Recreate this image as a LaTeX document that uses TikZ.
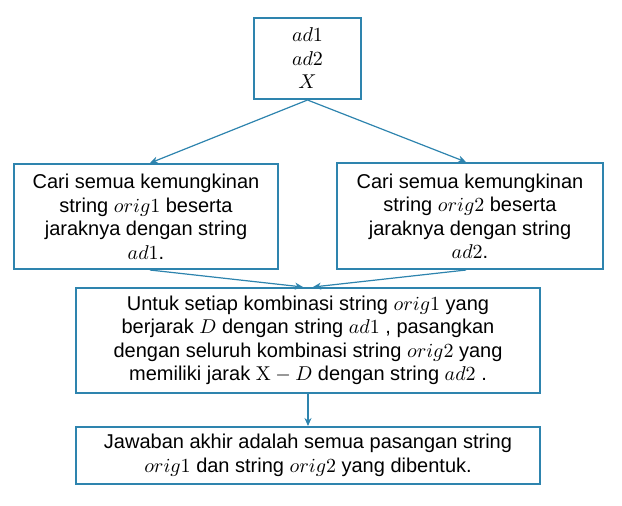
\documentclass[tikz,border=0pt]{standalone}
\usepackage[no-math]{fontspec}
\setmainfont{Liberation Sans}
\usetikzlibrary{arrows.meta}
\definecolor{boxblue}{RGB}{46,132,174}
\tikzset{
	stepbox/.style={draw=boxblue, line width=1pt, align=center, inner sep=0pt, font=\fontsize{10}{11.75}\selectfont},
	flow/.style={draw=boxblue, line width=0.6pt, -{Stealth[length=4pt,width=3.5pt]}}
}

\begin{document}
\begin{tikzpicture}[x=0.5pt, y=-0.5pt]
	\useasboundingbox (0,0) rectangle (622,505);

	\node [stepbox, minimum width=53.5pt, minimum height=40.5pt] (inp) at (307.5,58.5) {$ad1$\\$ad2$\\$X$};
	\node [stepbox, minimum width=132pt, minimum height=52.5pt] (lft) at (146,216.5) {Cari semua kemungkinan\\string $orig1$ beserta\\jaraknya dengan string\\$ad1$.};
	\node [stepbox, minimum width=133pt, minimum height=53pt] (rgt) at (470,216) {Cari semua kemungkinan\\string $orig2$ beserta\\jaraknya dengan string\\$ad2$.};
	\node [stepbox, minimum width=232pt, minimum height=52.5pt] (mid) at (308,340.5) {Untuk setiap kombinasi string $orig1$ yang\\berjarak $D$ dengan string $ad1$ , pasangkan\\dengan seluruh kombinasi string $orig2$ yang\\memiliki jarak $\mathrm{X}-D$ dengan string $ad2$ .};
	\node [stepbox, minimum width=232pt, minimum height=28.5pt] (res) at (308,455.5) {Jawaban akhir adalah semua pasangan string\\$orig1$ dan string $orig2$ yang dibentuk.};

	\draw [flow] (inp.south) -- ([xshift=2pt]lft.north);
	\draw [flow] (inp.south) -- ([xshift=-2pt]rgt.north);
	\draw [flow] ([xshift=2pt]lft.south) -- ([xshift=-2.5pt]mid.north);
	\draw [flow] ([xshift=-2pt]rgt.south) -- ([xshift=2.5pt]mid.north);
	\draw [flow] (mid.south) -- (res.north);
\end{tikzpicture}
\end{document}
